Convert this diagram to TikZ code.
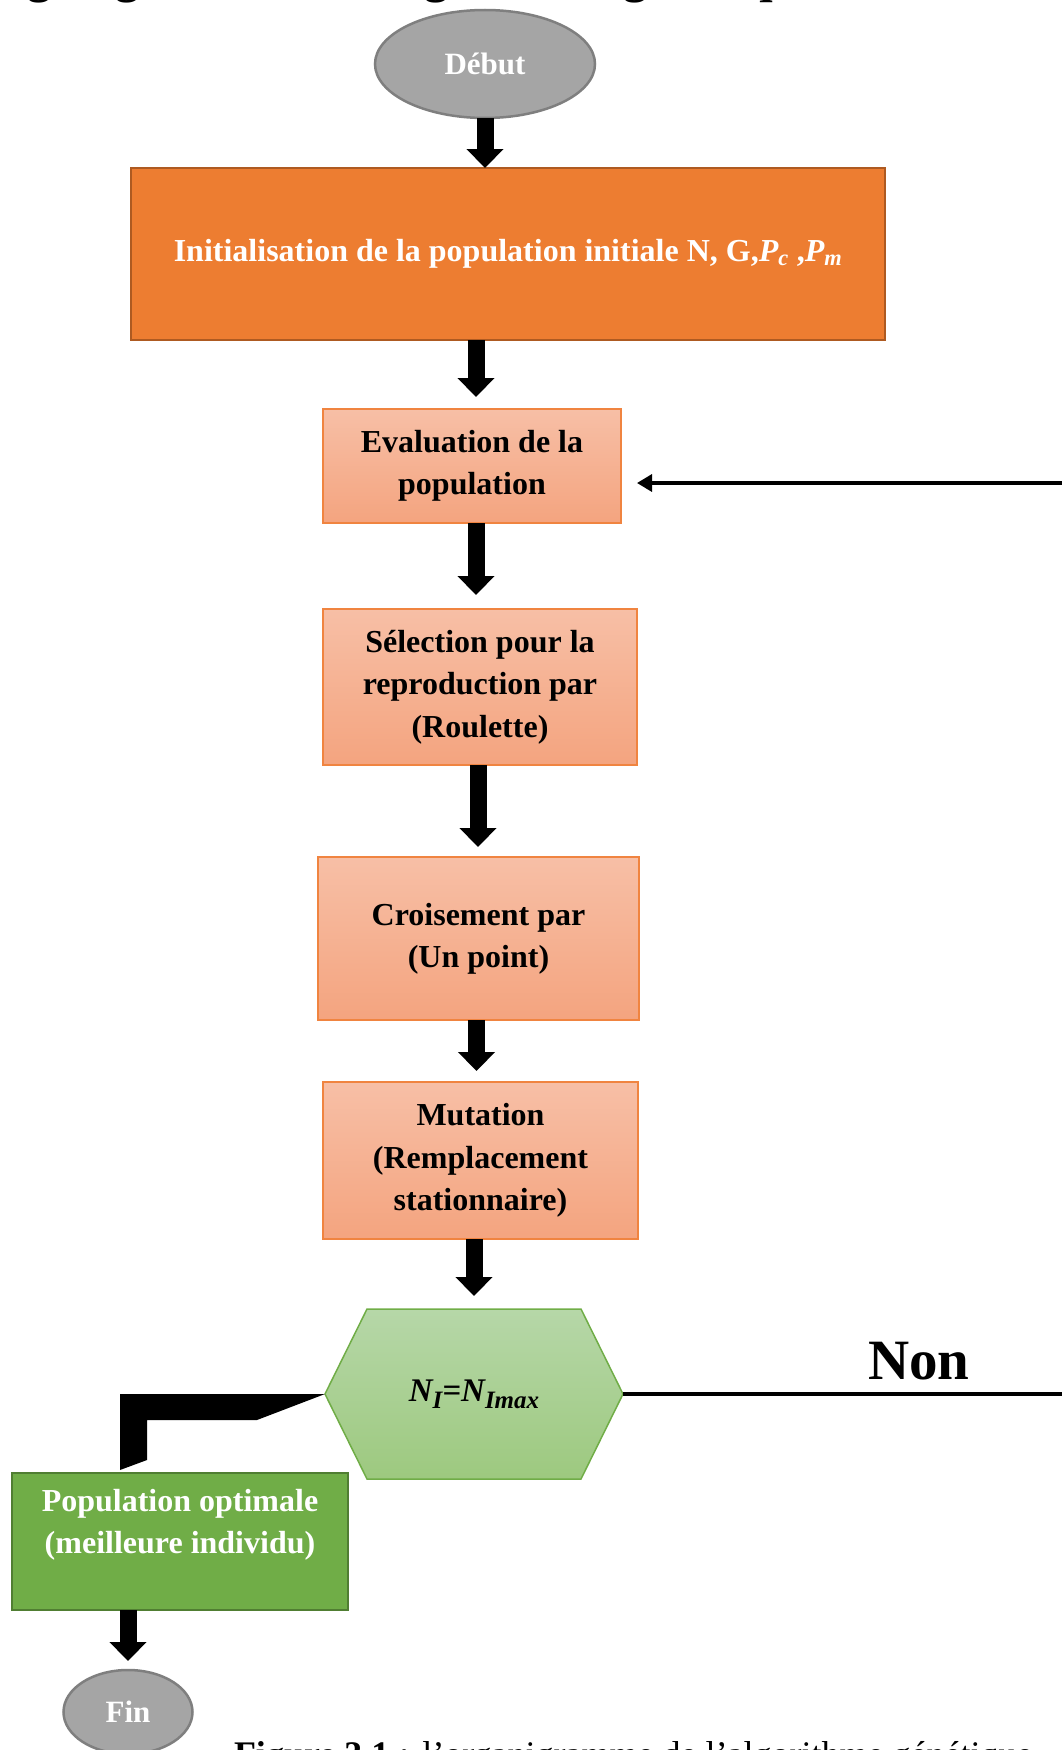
\documentclass[tikz,border=0pt]{standalone}
\usepackage{fontspec}
\setmainfont{Liberation Serif}
\usetikzlibrary{shapes.geometric,arrows.meta,backgrounds}

\definecolor{termfill}{HTML}{A5A5A5}
\definecolor{termedge}{HTML}{7F7F7F}
\definecolor{initfill}{HTML}{ED7D31}
\definecolor{initedge}{HTML}{AE5A21}
\definecolor{steptop}{HTML}{F7BFA6}
\definecolor{stepbot}{HTML}{F4A47F}
\definecolor{stepedge}{HTML}{F08440}
\definecolor{hextop}{HTML}{B6D7A8}
\definecolor{hexbot}{HTML}{9DC97F}
\definecolor{hexedge}{HTML}{70AD47}
\definecolor{optfill}{HTML}{70AD47}
\definecolor{optedge}{HTML}{507E32}

% lowered subscript in a fixed size
\newcommand{\lowsub}[1]{\raisebox{-7pt}{\fontsize{25}{25}\selectfont #1}}

\begin{document}
\begin{tikzpicture}[x=1pt,y=-1pt,
  every node/.style={inner sep=0pt, outer sep=0pt},
  body/.style={font=\fontsize{32}{42.4}\selectfont\bfseries, align=center},
  terminal/.style={ellipse, fill=termfill, draw=termedge, line width=2.5pt,
    text=white, font=\fontsize{31}{31}\selectfont\bfseries},
  initbox/.style={rectangle, fill=initfill, draw=initedge, line width=2.5pt,
    text=white, body},
  stepbox/.style={rectangle, top color=steptop, bottom color=stepbot,
    draw=stepedge, line width=1.5pt, body},
  hexnode/.style={rectangle, font=\fontsize{33}{33}\selectfont\bfseries\itshape},
  optbox/.style={rectangle, fill=optfill, draw=optedge, line width=2.5pt},
  blockarrow/.style={line width=17pt, -{Triangle[width=36pt,length=19pt]}},
  flowline/.style={line width=3.3pt, -{Triangle[width=17pt,length=15pt]}}
]
\useasboundingbox (0,0) rectangle (1062,1750);

% heading and caption, cut by the page edges
\begin{scope}
  \clip (0,0) rectangle (1062,1750);
  \node[anchor=base west, font=\fontsize{48}{48}\selectfont\bfseries] (title)
    at (-31,-7.5) {Organigramme de l'algorithme génétique};
  \node[anchor=base west, font=\fontsize{36}{36}\selectfont] (caption)
    at (234,1766) {\textbf{Figure 3.1 :} l'organigramme de l'algorithme génétique};
\end{scope}

% flowchart nodes
\node[terminal, minimum width=220pt, minimum height=108pt] (debut) at (485,64) {Début};
\node[initbox, minimum width=754pt, minimum height=172pt] (init) at (508,254)
  {Initialisation de la population initiale N, G,{\itshape P\textsubscript{c}} ,{\itshape P\textsubscript{m}}};
\node[stepbox, minimum width=298pt, minimum height=114pt] (eval) at (472,466)
  {Evaluation de la\\population};
\node[stepbox, minimum width=314pt, minimum height=156pt] (sel) at (480,687)
  {Sélection pour la\\reproduction par\\(Roulette)};
\node[stepbox, minimum width=321pt, minimum height=163pt] (cross) at (478.5,938.5)
  {Croisement par\\(Un point)};
\node[stepbox, minimum width=315pt, minimum height=157pt] (mut) at (480.5,1160.5)
  {Mutation\\(Remplacement\\stationnaire)};
\node[hexnode, minimum width=298pt, minimum height=170pt] (hex) at (474,1394)
  {N\lowsub{I}=N\lowsub{Imax}};
\begin{scope}[on background layer]
  \path[top color=hextop, bottom color=hexbot, draw=hexedge, line width=1.5pt]
    (hex.west) -- ([xshift=42pt]hex.north west) -- ([xshift=-42pt]hex.north east)
    -- (hex.east) -- ([xshift=-42pt]hex.south east) -- ([xshift=42pt]hex.south west)
    -- cycle;
\end{scope}
\node[optbox, minimum width=336pt, minimum height=137pt] (opt) at (180,1541.5) {};
\node[body, text=white] (opttxt) at (180,1525)
  {Population optimale\\(meilleure individu)};
\node[terminal, minimum width=129pt, minimum height=84pt] (fin) at (128,1712) {Fin};

% thick arrows down the main column
\coordinate (c2) at ([xshift=4pt]eval.north);
\coordinate (c3) at ([xshift=4pt]eval.south);
\coordinate (c4) at ([xshift=-2pt]sel.south);
\coordinate (c5) at ([xshift=-2pt]cross.south);
\draw[blockarrow] (debut.south) -- (debut.south |- init.north);
\draw[blockarrow, shorten >=12pt] (c2 |- init.south) -- (c2);
\draw[blockarrow, shorten >=14pt] (c3) -- (c3 |- sel.north);
\draw[blockarrow, shorten >=10pt] (c4) -- (c4 |- cross.north);
\draw[blockarrow, shorten >=11pt] (c5) -- (c5 |- mut.north);
\draw[blockarrow, shorten >=13pt] (hex.north |- mut.south) -- (hex.north);
\draw[blockarrow, shorten >=9pt] (fin.north |- opt.south) -- (fin.north);

% bent exit towards the result
\fill (hex.west) -- ++(-68,26) -- ++(-110,0) -- ++(0,40) -- ++(-27,10)
  -- ++(0,-76) -- cycle;

% loop back to the evaluation
\coordinate (loopR) at (1090,483);
\draw[flowline, shorten >=16pt] (hex.east) -| (loopR) -- (loopR -| eval.east);
\node[anchor=base, font=\fontsize{57}{57}\selectfont\bfseries] (non) at (919,1379) {Non};

\end{tikzpicture}
\end{document}
